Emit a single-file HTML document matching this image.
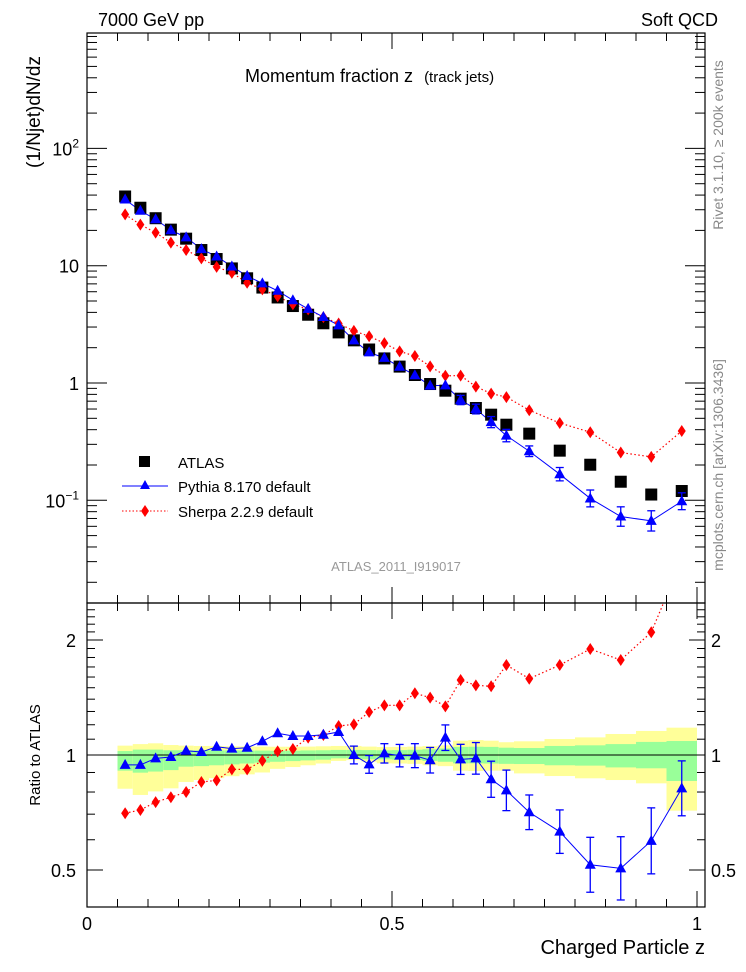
<!DOCTYPE html>
<html><head><meta charset="utf-8">
<style>
html,body{margin:0;padding:0;background:#fff;}
svg{display:block;font-family:"Liberation Sans",sans-serif;}
</style></head>
<body>
<svg id="chart" width="746" height="972" viewBox="0 0 746 972" xmlns="http://www.w3.org/2000/svg">
<g id="bands"></g>
<g id="axes"></g>
<g id="series"></g>
<text x="98" y="26" font-size="18">7000 GeV pp</text>
<text x="718" y="26" font-size="18" text-anchor="end">Soft QCD</text>
<text x="245" y="82" font-size="18">Momentum fraction z <tspan font-size="15" dx="6">(track jets)</tspan></text>
<text transform="translate(40,112) rotate(-90)" font-size="19" text-anchor="middle">(1/Njet)dN/dz</text>
<text transform="translate(40,755) rotate(-90)" font-size="15" text-anchor="middle">Ratio to ATLAS</text>
<text x="705" y="954" font-size="20" text-anchor="end">Charged Particle z</text>
<text transform="translate(723,145) rotate(-90)" font-size="14" fill="#888" text-anchor="middle">Rivet 3.1.10, ≥ 200k events</text>
<text transform="translate(723,465) rotate(-90)" font-size="14" fill="#888" text-anchor="middle">mcplots.cern.ch [arXiv:1306.3436]</text>
<text x="396" y="571" font-size="13" fill="#999" text-anchor="middle">ATLAS_2011_I919017</text>
<g>
 <rect x="139" y="456" width="11" height="11" fill="#000"/>
 <text x="178" y="468" font-size="15">ATLAS</text>
 <line x1="122" y1="486" x2="168" y2="486" stroke="#00f" stroke-width="1"/>
 <polygon points="145,480 150,489 140,489" fill="#00f"/>
 <text x="178" y="492" font-size="15">Pythia 8.170 default</text>
 <line x1="122" y1="511" x2="168" y2="511" stroke="#f00" stroke-width="1" stroke-dasharray="1.5,2"/>
 <polygon points="145,505 149,511 145,517 141,511" fill="#f00"/>
 <text x="178" y="517" font-size="15">Sherpa 2.2.9 default</text>
</g>
</svg>
<script>
const zCenters=[0.0625,0.0875,0.1125,0.1375,0.1625,0.1875,0.2125,0.2375,0.2625,0.2875,0.3125,0.3375,0.3625,0.3875,0.4125,0.4375,0.4625,0.4875,0.5125,0.5375,0.5625,0.5875,0.6125,0.6375,0.6625,0.6875,0.725,0.775,0.825,0.875,0.925,0.975];
const zHalfWidths=[0.0125,0.0125,0.0125,0.0125,0.0125,0.0125,0.0125,0.0125,0.0125,0.0125,0.0125,0.0125,0.0125,0.0125,0.0125,0.0125,0.0125,0.0125,0.0125,0.0125,0.0125,0.0125,0.0125,0.0125,0.0125,0.0125,0.025,0.025,0.025,0.025,0.025,0.025];
const atlasValues=[38.9,31.2,25.4,20.3,17.0,13.6,11.4,9.48,7.81,6.51,5.36,4.53,3.82,3.23,2.70,2.31,1.93,1.62,1.38,1.17,0.98,0.86,0.735,0.612,0.537,0.441,0.370,0.265,0.201,0.144,0.112,0.120];
const pythiaRatio=[0.942,0.942,0.980,0.988,1.026,1.018,1.051,1.039,1.045,1.086,1.140,1.121,1.121,1.130,1.149,1.0,0.945,1.010,0.996,0.996,0.969,1.110,0.974,0.980,0.864,0.808,0.708,0.630,0.516,0.505,0.596,0.818];
const pythiaRelErr=[0.015,0.015,0.015,0.015,0.015,0.015,0.015,0.015,0.015,0.015,0.015,0.015,0.015,0.015,0.02,0.055,0.055,0.06,0.07,0.075,0.08,0.08,0.095,0.1,0.115,0.13,0.11,0.14,0.18,0.21,0.22,0.18];
const sherpaRatio=[0.704,0.718,0.753,0.775,0.800,0.850,0.858,0.917,0.917,0.966,1.022,1.037,1.110,1.128,1.191,1.203,1.296,1.349,1.349,1.451,1.413,1.341,1.571,1.522,1.513,1.720,1.584,1.720,1.894,1.773,2.095,3.25];
const yellowUp=[1.058,1.068,1.073,1.062,1.058,1.056,1.055,1.054,1.053,1.052,1.051,1.051,1.052,1.054,1.056,1.056,1.052,1.049,1.05,1.052,1.055,1.06,1.09,1.094,1.09,1.08,1.086,1.101,1.112,1.135,1.156,1.179];
const yellowDown=[0.816,0.786,0.803,0.818,0.85,0.86,0.87,0.88,0.89,0.90,0.92,0.93,0.94,0.95,0.965,0.97,0.96,0.951,0.95,0.948,0.94,0.935,0.91,0.908,0.91,0.91,0.895,0.881,0.869,0.86,0.843,0.715];
const greenUp=[1.024,1.033,1.033,1.029,1.029,1.029,1.028,1.028,1.027,1.027,1.026,1.026,1.028,1.029,1.031,1.031,1.03,1.029,1.03,1.032,1.035,1.04,1.05,1.051,1.05,1.045,1.043,1.056,1.06,1.068,1.082,1.088];
const greenDown=[0.91,0.899,0.905,0.913,0.932,0.935,0.94,0.945,0.95,0.955,0.96,0.964,0.968,0.972,0.98,0.98,0.975,0.974,0.972,0.97,0.965,0.96,0.951,0.951,0.95,0.948,0.947,0.94,0.938,0.928,0.923,0.855];
const mainYTickBase=["10","1","10","10"];
const mainYTickExp=["−1","","","2"];
const ratioYTicks=["0.5","1","2"];
const xTickLabels=["0","0.5","1"];

const NS="http://www.w3.org/2000/svg";
const L=87,R=705,T=33,MB=603,RB=907;
const X=z=>87+z*610;
const YM=v=>383-Math.log10(v)*117.3;
const YR=r=>755-Math.log2(r)*115;
function mk(tag,attrs,parent){const e=document.createElementNS(NS,tag);for(const k in attrs)e.setAttribute(k,attrs[k]);parent.appendChild(e);return e;}
const bands=document.getElementById('bands'),axes=document.getElementById('axes'),series=document.getElementById('series');

for(let i=0;i<zCenters.length;i++){
 const x0=X(zCenters[i]-zHalfWidths[i]),x1=X(zCenters[i]+zHalfWidths[i]);
 const y=mk('rect',{x:x0,y:YR(yellowUp[i]),width:x1-x0,height:YR(yellowDown[i])-YR(yellowUp[i]),fill:'#ffff99'},bands);
 
 
 const g=mk('rect',{x:x0,y:YR(greenUp[i]),width:x1-x0,height:YR(greenDown[i])-YR(greenUp[i]),fill:'#99ff99'},bands);
 
 
}
[[T,MB],[MB,RB]].forEach(([a,b])=>{mk('rect',{x:L,y:a,width:R-L,height:b-a,fill:'none',stroke:'#000','stroke-width':1.2},axes);});
mk('line',{x1:L,y1:YR(1),x2:R,y2:YR(1),stroke:'#000','stroke-width':1},axes);
for(let k=0;k<=20;k++){const z=k*0.05;const x=X(z);if(x>R)break;const len=(k%10==0)?16:8;
 [[MB,MB-len],[T,T+len],[RB,RB-len],[MB,MB+len]].forEach(([a,b])=>mk('line',{x1:x,y1:a,x2:x,y2:b,stroke:'#000'},axes));}
xTickLabels.forEach((t,i)=>{const e=mk('text',{x:X(i*0.5),y:930,'font-size':18,'text-anchor':'middle'},axes);e.textContent=t;
 
 });
for(let d=-2;d<=2;d++){for(let m=1;m<=9;m++){const v=m*Math.pow(10,d);const y=YM(v);if(y<T||y>MB)continue;const len=m==1?20:10;
 mk('line',{x1:L,y1:y,x2:L+len,y2:y,stroke:'#000'},axes);mk('line',{x1:R,y1:y,x2:R-len,y2:y,stroke:'#000'},axes);}}
mainYTickBase.forEach((t,i)=>{const e=mk('text',{x:79,y:YM(Math.pow(10,i-1))+7,'font-size':18,'text-anchor':'end'},axes);
 
 
 const b=mk('tspan',{},e);b.textContent=t;
 if(mainYTickExp[i]){const s=mk('tspan',{dy:-8,'font-size':12},e);s.textContent=mainYTickExp[i];}});
[0.4,0.5,0.6,0.7,0.8,0.9,1,1.1,1.2,1.3,1.4,1.5,1.6,1.7,1.8,1.9,2,2.1,2.2,2.3,2.4,2.5].forEach(r=>{const y=YR(r);if(y<MB||y>RB)return;const len=([0.5,1,2].includes(r))?16:8;
 mk('line',{x1:L,y1:y,x2:L+len,y2:y,stroke:'#000'},axes);mk('line',{x1:R,y1:y,x2:R-len,y2:y,stroke:'#000'},axes);});
ratioYTicks.forEach((t,i)=>{const r=[0.5,1,2][i];
 const e=mk('text',{x:76,y:YR(r)+7,'font-size':18,'text-anchor':'end'},axes);e.textContent=t;
 
 
 const f=mk('text',{x:711,y:YR(r)+7,'font-size':18},axes);f.textContent=t;
 
 });

const defs=mk('defs',{},series);
const c1=mk('clipPath',{id:'cm'},defs);mk('rect',{x:L,y:T,width:R-L,height:MB-T},c1);
const c2=mk('clipPath',{id:'cr'},defs);mk('rect',{x:L,y:MB,width:R-L,height:RB-MB},c2);
const gm=mk('g',{'clip-path':'url(#cm)'},series),gr=mk('g',{'clip-path':'url(#cr)'},series);

const pyMain=atlasValues.map((v,i)=>v*pythiaRatio[i]);
const shMain=atlasValues.map((v,i)=>v*sherpaRatio[i]);
function tri(g,x,y){return mk('polygon',{points:`${x},${y-6} ${x+5.5},${y+4} ${x-5.5},${y+4}`,fill:'#00f'},g);}
function dia(g,x,y){return mk('polygon',{points:`${x},${y-6} ${x+4},${y} ${x},${y+6} ${x-4},${y}`,fill:'#f00'},g);}
function drawPanel(g,Yf,atlas,py,sh){
 mk('polyline',{points:sh.map((v,i)=>X(zCenters[i])+','+Yf(v)).join(' '),fill:'none',stroke:'#f00','stroke-width':1.2,'stroke-dasharray':'1.5,2.5'},g);
 mk('polyline',{points:py.map((v,i)=>X(zCenters[i])+','+Yf(v)).join(' '),fill:'none',stroke:'#00f','stroke-width':1},g);
 if(atlas){atlas.forEach((v,i)=>{const r=mk('rect',{x:X(zCenters[i])-6,y:Yf(v)-6,width:12,height:12,fill:'#000'},g);
  
  });}
 sh.forEach((v,i)=>{const x=X(zCenters[i]),y=Yf(v);
  mk('line',{x1:x,y1:Yf(v*0.985),x2:x,y2:Yf(v/0.985),stroke:'#f00','stroke-width':1.5},g);
  const d=dia(g,x,y);
  
  });
 py.forEach((v,i)=>{const x=X(zCenters[i]);const e=pythiaRelErr[i];const y1=Yf(v*(1+e)),y2=Yf(v/(1+e));
  mk('line',{x1:x,y1:y1,x2:x,y2:y2,stroke:'#00f','stroke-width':1.3},g);
  if(y2-y1>8){mk('line',{x1:x-4,y1:y1,x2:x+4,y2:y1,stroke:'#00f','stroke-width':1.3},g);mk('line',{x1:x-4,y1:y2,x2:x+4,y2:y2,stroke:'#00f','stroke-width':1.3},g);}
  const t=tri(g,x,Yf(v));
  
  });
}
drawPanel(gm,YM,atlasValues,pyMain,shMain);
drawPanel(gr,YR,null,pythiaRatio,sherpaRatio);
</script>
</body></html>
